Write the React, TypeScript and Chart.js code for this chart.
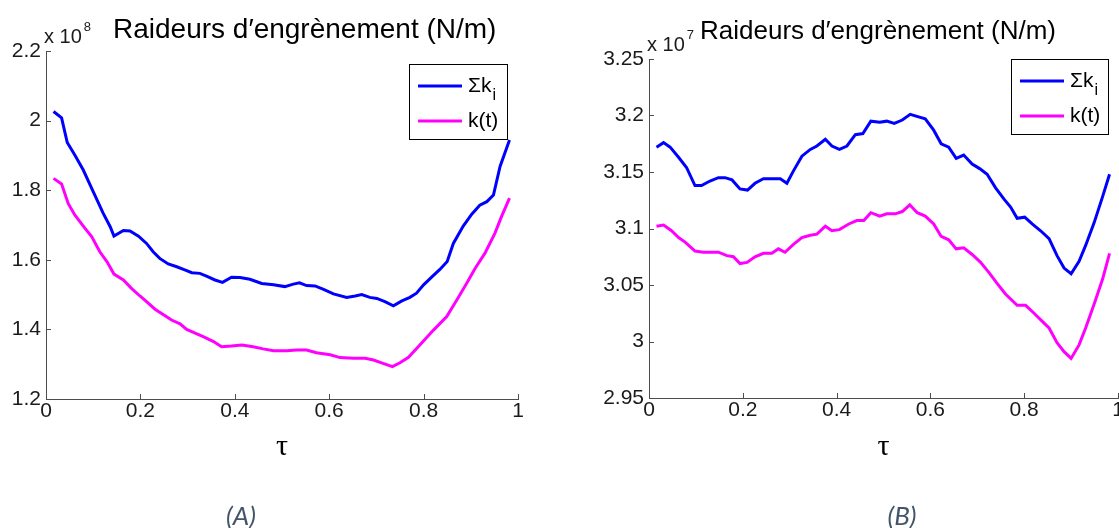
import React, { useEffect, useRef } from "react";
import { Chart, registerables } from "chart.js";
Chart.register(...registerables);

// ---------- data ----------
const xTicks = [0, 0.2, 0.4, 0.6, 0.8, 1];
const xTickLabels = ["0", "0.2", "0.4", "0.6", "0.8", "1"];

const yTicksA = [1.2, 1.4, 1.6, 1.8, 2, 2.2];
const yTickLabelsA = ["1.2", "1.4", "1.6", "1.8", "2", "2.2"];
const yTicksB = [2.95, 3, 3.05, 3.1, 3.15, 3.2, 3.25];
const yTickLabelsB = ["2.95", "3", "3.05", "3.1", "3.15", "3.2", "3.25"];

const seriesNames = ["Σk", "k(t)"];
const seriesSub = ["i", ""];
const seriesColors = ["#0000FF", "#FF00FF"];
const titleText = "Raideurs d\u2032engrènement (N/m)";
const xAxisTitle = "τ";
const exponentA = "8";
const exponentB = "7";
const captions = ["(A)", "(B)"];

// Chart A (x 10^8 N/m)
const tauSumA = [0.016, 0.033, 0.045, 0.061, 0.079, 0.1, 0.121, 0.136, 0.144, 0.164, 0.178, 0.196, 0.213, 0.227, 0.241, 0.259, 0.277, 0.294, 0.309, 0.326, 0.34, 0.358, 0.374, 0.393, 0.411, 0.432, 0.457, 0.482, 0.506, 0.524, 0.537, 0.552, 0.57, 0.588, 0.609, 0.637, 0.655, 0.669, 0.686, 0.701, 0.718, 0.736, 0.754, 0.771, 0.785, 0.8, 0.817, 0.835, 0.85, 0.863, 0.884, 0.902, 0.919, 0.934, 0.948, 0.962, 0.982];
const sumKA = [2.026, 2.008, 1.937, 1.901, 1.858, 1.796, 1.734, 1.695, 1.668, 1.684, 1.683, 1.668, 1.647, 1.623, 1.604, 1.588, 1.58, 1.571, 1.563, 1.561, 1.553, 1.542, 1.535, 1.55, 1.549, 1.544, 1.532, 1.528, 1.523, 1.53, 1.534, 1.526, 1.525, 1.515, 1.502, 1.492, 1.496, 1.5, 1.492, 1.489, 1.48, 1.468, 1.482, 1.492, 1.504, 1.528, 1.55, 1.573, 1.595, 1.647, 1.697, 1.731, 1.757, 1.767, 1.786, 1.868, 1.944];
const tauKA = [0.016, 0.033, 0.047, 0.061, 0.079, 0.097, 0.114, 0.129, 0.144, 0.164, 0.181, 0.199, 0.213, 0.231, 0.249, 0.266, 0.284, 0.298, 0.316, 0.333, 0.355, 0.372, 0.393, 0.415, 0.439, 0.46, 0.482, 0.51, 0.531, 0.552, 0.573, 0.602, 0.623, 0.651, 0.676, 0.694, 0.711, 0.734, 0.75, 0.768, 0.792, 0.821, 0.849, 0.87, 0.891, 0.909, 0.93, 0.951, 0.965, 0.982];
const kA = [1.834, 1.818, 1.762, 1.729, 1.697, 1.666, 1.623, 1.595, 1.559, 1.542, 1.518, 1.496, 1.48, 1.458, 1.442, 1.427, 1.416, 1.4, 1.389, 1.379, 1.365, 1.35, 1.352, 1.355, 1.35, 1.344, 1.339, 1.339, 1.341, 1.341, 1.333, 1.327, 1.319, 1.317, 1.317, 1.312, 1.304, 1.293, 1.304, 1.32, 1.355, 1.398, 1.437, 1.484, 1.532, 1.575, 1.619, 1.676, 1.724, 1.777];

// Chart B (x 10^7 N/m)
const tauSumB = [0.016, 0.031, 0.045, 0.063, 0.08, 0.098, 0.112, 0.13, 0.148, 0.162, 0.177, 0.194, 0.21, 0.226, 0.244, 0.262, 0.28, 0.294, 0.308, 0.326, 0.344, 0.358, 0.376, 0.39, 0.406, 0.422, 0.44, 0.456, 0.473, 0.492, 0.507, 0.523, 0.54, 0.557, 0.573, 0.589, 0.607, 0.623, 0.639, 0.655, 0.671, 0.689, 0.705, 0.721, 0.739, 0.757, 0.771, 0.785, 0.801, 0.817, 0.835, 0.853, 0.87, 0.885, 0.9, 0.917, 0.931, 0.949, 0.967, 0.982];
const sumKB = [3.172, 3.176, 3.172, 3.163, 3.154, 3.138, 3.138, 3.142, 3.145, 3.145, 3.143, 3.135, 3.134, 3.14, 3.144, 3.144, 3.144, 3.14, 3.151, 3.164, 3.17, 3.173, 3.179, 3.173, 3.17, 3.173, 3.183, 3.184, 3.195, 3.194, 3.195, 3.193, 3.196, 3.201, 3.199, 3.197, 3.187, 3.175, 3.172, 3.162, 3.165, 3.157, 3.153, 3.148, 3.136, 3.126, 3.119, 3.109, 3.11, 3.104, 3.098, 3.091, 3.076, 3.065, 3.06, 3.071, 3.085, 3.105, 3.128, 3.148];
const tauKB = [0.016, 0.031, 0.048, 0.063, 0.077, 0.098, 0.116, 0.134, 0.148, 0.166, 0.18, 0.194, 0.209, 0.226, 0.244, 0.262, 0.276, 0.29, 0.308, 0.326, 0.344, 0.358, 0.376, 0.39, 0.406, 0.426, 0.443, 0.458, 0.473, 0.492, 0.507, 0.525, 0.54, 0.556, 0.572, 0.589, 0.607, 0.623, 0.639, 0.655, 0.671, 0.689, 0.707, 0.725, 0.743, 0.76, 0.785, 0.803, 0.821, 0.838, 0.853, 0.87, 0.885, 0.9, 0.917, 0.931, 0.949, 0.967, 0.982];
const kB = [3.102, 3.103, 3.098, 3.092, 3.088, 3.08, 3.079, 3.079, 3.079, 3.076, 3.075, 3.069, 3.07, 3.075, 3.078, 3.078, 3.082, 3.079, 3.086, 3.092, 3.094, 3.095, 3.102, 3.098, 3.099, 3.104, 3.107, 3.107, 3.114, 3.111, 3.113, 3.113, 3.115, 3.121, 3.114, 3.111, 3.104, 3.093, 3.09, 3.082, 3.083, 3.077, 3.07, 3.061, 3.051, 3.042, 3.032, 3.032, 3.025, 3.018, 3.012, 2.999, 2.991, 2.985, 2.997, 3.012, 3.033, 3.055, 3.078];

const pts = (xs: number[], ys: number[]) => xs.map((x, i) => ({ x, y: ys[i] }));

const decorPlugin = {
  id: "matlabDecor",
  afterDraw(chart: any, _args: any, o: any) {
    const ctx = chart.ctx;
    const { left, right, top, bottom } = chart.chartArea;
    const xs = chart.scales.x;
    const ys = chart.scales.y;
    ctx.save();
    // inward ticks
    ctx.strokeStyle = "#4d4d4d";
    ctx.lineWidth = 1;
    ctx.beginPath();
    o.xTicks.forEach((v: number) => {
      const px = Math.round(xs.getPixelForValue(v)) + 0.5;
      ctx.moveTo(px, bottom);
      ctx.lineTo(px, bottom - 5);
    });
    o.yTicks.forEach((v: number) => {
      const py = Math.round(ys.getPixelForValue(v)) + 0.5;
      ctx.moveTo(left, py);
      ctx.lineTo(left + 5, py);
    });
    ctx.stroke();

    ctx.fillStyle = "#1a1a1a";
    ctx.textBaseline = "middle";
    // exponent
    ctx.textAlign = "left";
    ctx.font = "20px 'Liberation Sans', Arial, sans-serif";
    ctx.fillText("x 10", o.expX, o.expY);
    const w = ctx.measureText("x 10").width;
    ctx.font = "13px 'Liberation Sans', Arial, sans-serif";
    ctx.fillText(o.exp, o.expX + w + 2, o.expY - 10);
    // title
    ctx.fillStyle = "#000";
    ctx.font = o.titleSize + "px 'Liberation Sans', Arial, sans-serif";
    ctx.fillText(o.title, o.titleX, o.titleY);
    // x-axis title
    ctx.textAlign = "center";
    ctx.font = "30px 'Liberation Serif', serif";
    ctx.fillText(o.xTitle, (left + right) / 2, o.xTitleY);

    // legend
    const L = o.legend;
    ctx.fillStyle = "#fff";
    ctx.fillRect(L.x, L.y, L.w, L.h);
    ctx.strokeStyle = "#000";
    ctx.lineWidth = 1;
    ctx.strokeRect(L.x + 0.5, L.y + 0.5, L.w, L.h);
    o.names.forEach((name: string, i: number) => {
      const ly = L.y + L.row0 + i * L.rowGap;
      ctx.strokeStyle = o.colors[i];
      ctx.lineWidth = 3;
      ctx.beginPath();
      ctx.moveTo(L.x + 9, ly);
      ctx.lineTo(L.x + 53, ly);
      ctx.stroke();
      ctx.fillStyle = "#000";
      ctx.textAlign = "left";
      ctx.font = "21px 'Liberation Sans', Arial, sans-serif";
      ctx.fillText(name, L.x + 59, ly);
      if (o.subs[i]) {
        const nw = ctx.measureText(name).width;
        ctx.font = "16px 'Liberation Sans', Arial, sans-serif";
        ctx.fillText(o.subs[i], L.x + 59 + nw + 1, ly + 10);
      }
    });
    ctx.restore();
  },
};

type Cfg = {
  width: number;
  yMin: number;
  yMax: number;
  yTicks: number[];
  yLabels: string[];
  area: { left: number; right: number; top: number; bottom: number };
  sum: { x: number; y: number }[];
  k: { x: number; y: number }[];
  decor: any;
};

function MatlabChart({ cfg }: { cfg: Cfg }) {
  const ref = useRef<HTMLCanvasElement>(null);
  useEffect(() => {
    const H = 528;
    const xH = 40;
    const chart = new Chart(ref.current as HTMLCanvasElement, {
      type: "line",
      data: {
        datasets: [
          { label: seriesNames[0], data: cfg.sum, borderColor: seriesColors[0], borderWidth: 3, pointRadius: 0, tension: 0, fill: false },
          { label: seriesNames[1], data: cfg.k, borderColor: seriesColors[1], borderWidth: 3, pointRadius: 0, tension: 0, fill: false },
        ],
      },
      plugins: [decorPlugin],
      options: {
        animation: false,
        responsive: false,
        events: [],
        layout: {
          padding: {
            left: 0,
            right: cfg.width - cfg.area.right,
            top: cfg.area.top,
            bottom: H - cfg.area.bottom - xH,
          },
        },
        plugins: {
          legend: { display: false },
          tooltip: { enabled: false },
          title: { display: false },
          matlabDecor: cfg.decor,
        } as any,
        scales: {
          x: {
            type: "linear",
            min: 0,
            max: 1,
            grid: { display: false, drawTicks: false },
            border: { display: true, color: "#4d4d4d", width: 1 },
            afterBuildTicks: (s: any) => {
              s.ticks = xTicks.map((v) => ({ value: v }));
            },
            afterFit: (s: any) => {
              s.height = xH;
              s.paddingLeft = 0;
              s.paddingRight = 0;
            },
            ticks: {
              padding: 0,
              maxRotation: 0,
              autoSkip: false,
              color: "#1a1a1a",
              font: { family: "'Liberation Sans', Arial, sans-serif", size: 21 },
              callback: (_v: any, i: number) => xTickLabels[i],
            },
          },
          y: {
            type: "linear",
            min: cfg.yMin,
            max: cfg.yMax,
            grid: { display: false, drawTicks: false },
            border: { display: true, color: "#4d4d4d", width: 1 },
            afterBuildTicks: (s: any) => {
              s.ticks = cfg.yTicks.map((v) => ({ value: v }));
            },
            afterFit: (s: any) => {
              s.width = cfg.area.left;
              s.paddingTop = 0;
              s.paddingBottom = 0;
            },
            ticks: {
              padding: 5,
              autoSkip: false,
              color: "#1a1a1a",
              font: { family: "'Liberation Sans', Arial, sans-serif", size: 21 },
              callback: (_v: any, i: number) => cfg.yLabels[i],
            },
          },
        },
      },
    });
    return () => chart.destroy();
  }, [cfg]);
  return <canvas ref={ref} width={cfg.width} height={528} style={{ display: "block" }} />;
}

const cfgA: Cfg = {
  width: 560,
  yMin: 1.2,
  yMax: 2.2,
  yTicks: yTicksA,
  yLabels: yTickLabelsA,
  area: { left: 46, right: 518, top: 51, bottom: 399 },
  sum: pts(tauSumA, sumKA),
  k: pts(tauKA, kA),
  decor: {
    xTicks, yTicks: yTicksA, exp: exponentA, expX: 44, expY: 37,
    title: titleText, titleX: 113, titleY: 30, titleSize: 28,
    xTitle: xAxisTitle, xTitleY: 447,
    names: seriesNames, subs: seriesSub, colors: seriesColors,
    legend: { x: 409, y: 64, w: 98, h: 75, row0: 22, rowGap: 35 },
  },
};

const cfgB: Cfg = {
  width: 559,
  yMin: 2.95,
  yMax: 3.25,
  yTicks: yTicksB,
  yLabels: yTickLabelsB,
  area: { left: 89, right: 558, top: 59, bottom: 398 },
  sum: pts(tauSumB, sumKB),
  k: pts(tauKB, kB),
  decor: {
    xTicks, yTicks: yTicksB, exp: exponentB, expX: 87, expY: 45,
    title: titleText, titleX: 140, titleY: 32, titleSize: 26,
    xTitle: xAxisTitle, xTitleY: 447,
    names: seriesNames, subs: seriesSub, colors: seriesColors,
    legend: { x: 451, y: 59, w: 97, h: 75, row0: 22, rowGap: 35 },
  },
};

const captionStyle: React.CSSProperties = {
  position: "absolute",
  top: 500,
  width: 80,
  textAlign: "center",
  fontFamily: "Lato, 'Open Sans', sans-serif",
  fontStyle: "italic",
  fontSize: 26,
  color: "#44546A",
  lineHeight: "30px",
};

export default function App() {
  return (
    <div style={{ position: "absolute", left: 0, top: 0, width: 1119, height: 528, background: "#fff", overflow: "hidden" }}>
      <div style={{ position: "absolute", left: 0, top: 0 }}>
        <MatlabChart cfg={cfgA} />
      </div>
      <div style={{ position: "absolute", left: 560, top: 0 }}>
        <MatlabChart cfg={cfgB} />
      </div>
      <div style={{ ...captionStyle, left: 241 - 40 }}>{captions[0]}</div>
      <div style={{ ...captionStyle, left: 902 - 40 }}>{captions[1]}</div>
    </div>
  );
}
